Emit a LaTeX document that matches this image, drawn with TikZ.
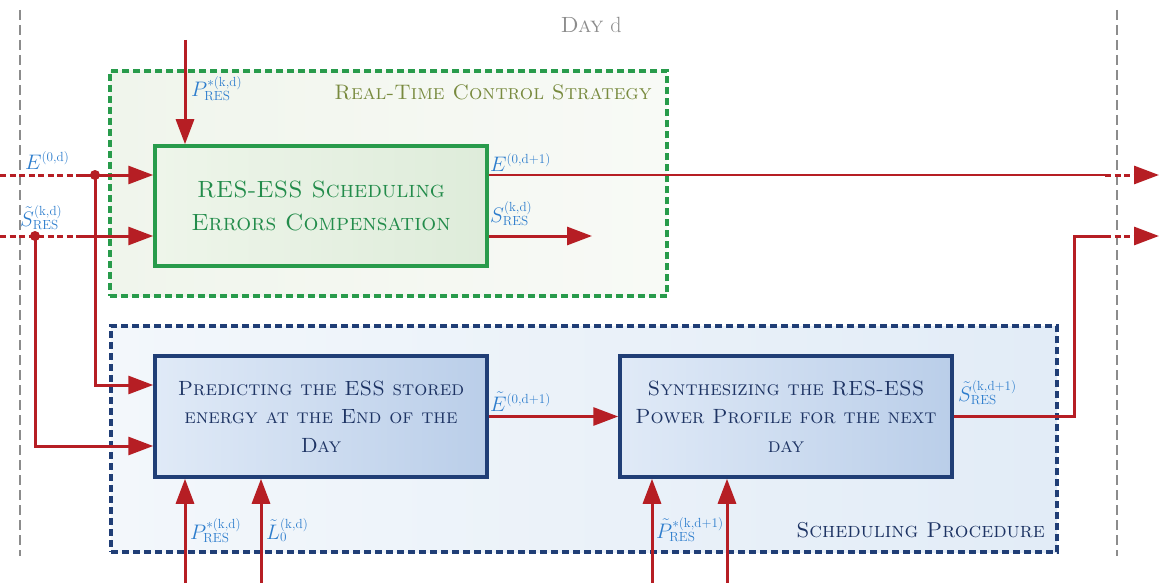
\RequirePackage{fix-cm}
\documentclass[tikz,border=0pt]{standalone}
\usetikzlibrary{arrows.meta}
% signal labels: narrower scripts than the default 0.7 ratio
\DeclareMathSizes{21}{21}{13.2}{9.5}

\definecolor{flowred}{RGB}{182,30,36}
\definecolor{daygray}{RGB}{140,140,140}
\definecolor{rtgreen}{RGB}{40,155,75}
\definecolor{rttext}{RGB}{35,140,75}
\definecolor{rttitle}{RGB}{120,138,62}
\definecolor{rtbgA}{RGB}{240,245,236}
\definecolor{rtbgB}{RGB}{248,250,246}
\definecolor{rtfillA}{RGB}{238,245,234}
\definecolor{rtfillB}{RGB}{222,236,218}
\definecolor{spblue}{RGB}{32,62,118}
\definecolor{sptext}{RGB}{30,52,100}
\definecolor{spbgA}{RGB}{243,247,251}
\definecolor{spbgB}{RGB}{226,236,247}
\definecolor{spfillA}{RGB}{224,234,247}
\definecolor{spfillB}{RGB}{186,206,233}
\definecolor{lblblue}{RGB}{45,125,205}

\begin{document}
\begin{tikzpicture}[x=1pt,y=-1pt,
  flow/.style={draw=flowred,line width=3pt},
  tip/.style={-{Triangle[length=25pt,width=18pt]}},
  cut/.style={draw=flowred,line width=3pt,dash pattern=on 6pt off 3.5pt},
  dayline/.style={draw=daygray,line width=2pt,dash pattern=on 10pt off 5pt},
  rtframe/.style={draw=rtgreen,line width=3.4pt,dash pattern=on 7pt off 4pt,
    left color=rtbgA,right color=rtbgB,minimum width=557pt,minimum height=225pt,inner sep=0pt},
  spframe/.style={draw=spblue,line width=3.4pt,dash pattern=on 7pt off 4pt,
    left color=spbgA,right color=spbgB,minimum width=946pt,minimum height=226pt,inner sep=0pt},
  rtblock/.style={draw=rtgreen,line width=3.5pt,left color=rtfillA,right color=rtfillB,
    minimum width=332pt,minimum height=120pt,inner sep=0pt,align=center,text=rttext,
    font=\fontsize{23.5}{33}\selectfont\scshape},
  spblock/.style={draw=spblue,line width=3.5pt,left color=spfillA,right color=spfillB,
    minimum width=332pt,minimum height=121pt,inner sep=0pt,align=center,text=sptext,
    font=\fontsize{20.6}{28.5}\selectfont\scshape},
  lbl/.style={text=lblblue,inner sep=0pt,anchor=base west,font=\fontsize{21}{24}\selectfont},
  joint/.style={fill=flowred}
]
\useasboundingbox (0,0) rectangle (1161,583);

% day boundaries
\coordinate (dayLtop) at (20,10);
\coordinate (dayLbot) at (20,556);
\coordinate (dayRtop) at (1117,10);
\coordinate (dayRbot) at (1117,556);
\draw[dayline] (dayLtop) -- (dayLbot);
\draw[dayline] (dayRtop) -- (dayRbot);
\node[text=daygray,inner sep=0pt,anchor=base,font=\fontsize{22}{24}\selectfont] (dayname) at (591,33) {\textsc{Day} d};

% group frames
\node[rtframe] (rtgroup) at (388.5,183.5) {};
\node[spframe] (spgroup) at (584,439) {};
\node[text=rttitle,inner sep=0pt,anchor=base east,font=\fontsize{21}{24}\selectfont\scshape] (rtname) at (652,100) {Real-Time Control Strategy};
\node[text=sptext,inner sep=0pt,anchor=base east,font=\fontsize{21.5}{24}\selectfont\scshape] (spname) at (1045,537) {Scheduling Procedure};

% blocks
\node[rtblock] (rtc) at (321,206) {RES-ESS Scheduling\\Errors Compensation};
\node[spblock] (pred) at (321,416.5) {Predicting the ESS stored\\energy at the End of the\\Day};
\node[spblock] (synth) at (786,416.5) {Synthesizing the RES-ESS\\Power Profile for the next\\day};

% inputs of the real-time block
\coordinate (pTop) at (185,40);
\draw[flow,tip] (pTop) -- (pTop |- rtc.north);

\coordinate (eIn) at (0,175);
\coordinate (eCut) at (77,175);
\coordinate (jE) at (95,175);
\draw[cut] (eIn) -- (eCut);
\draw[flow,tip] (eCut) -- (eCut -| rtc.west);

\coordinate (sIn) at (0,236);
\coordinate (sCut) at (77,236);
\coordinate (jS) at (35,236);
\draw[cut] (sIn) -- (sCut);
\draw[flow,tip] (sCut) -- (sCut -| rtc.west);

% branches into the prediction block
\draw[flow,tip] (jE) |- ([yshift=31.5pt]pred.west);
\draw[flow,tip] (jS) |- ([yshift=-29.5pt]pred.west);
\fill[joint] (jE) circle (5pt);
\fill[joint] (jS) circle (5pt);

% outputs of the real-time block
\coordinate (eOutCut) at (1105,175);
\coordinate (eOutTip) at (1159,175);
\draw[flow,line width=2.6pt] (eCut -| rtc.east) -- (eOutCut);
\draw[cut,tip] (eOutCut) -- (eOutTip);
\coordinate (sOut) at (592,236);
\draw[flow,tip] (sCut -| rtc.east) -- (sOut);

% scheduling chain
\draw[flow,tip] (pred.east) -- (synth.west);
\coordinate (sUp) at (1074,236);
\coordinate (sNextCut) at (1105,236);
\coordinate (sNextTip) at (1159,236);
\draw[flow] (synth.east) -- (sUp |- synth.east) -- (sUp) -- (sNextCut);
\draw[cut,tip] (sNextCut) -- (sNextTip);

% inputs from below
\coordinate (b1) at (185,583);
\coordinate (b2) at (261,583);
\coordinate (b3) at (652,583);
\coordinate (b4) at (727,583);
\draw[flow,tip] (b1) -- (b1 |- pred.south);
\draw[flow,tip] (b2) -- (b2 |- pred.south);
\draw[flow,tip] (b3) -- (b3 |- synth.south);
\draw[flow,tip] (b4) -- (b4 |- synth.south);

% signal labels
\node[lbl] (lPtop) at (191,97) {$P^{*(\mathrm{k,d})}_{\mathrm{RES}}$};
\node[lbl] (lE) at (25,169) {$E^{(0,\mathrm{d})}$};
\node[lbl] (lS) at (20,226) {$\tilde{S}^{(\mathrm{k,d})}_{\mathrm{RES}}$};
\node[lbl] (lEnext) at (490,171) {$E^{(0,\mathrm{d+1})}$};
\node[lbl] (lSout) at (490,222) {$S^{(\mathrm{k,d})}_{\mathrm{RES}}$};
\node[lbl] (lEpred) at (490,411) {$\tilde{E}^{(0,\mathrm{d+1})}$};
\node[lbl] (lSnext) at (958,401) {$\tilde{S}^{(\mathrm{k,d+1})}_{\mathrm{RES}}$};
\node[lbl] (lPbot) at (190,539) {$P^{*(\mathrm{k,d})}_{\mathrm{RES}}$};
\node[lbl] (lL) at (266,539) {$\tilde{L}^{(\mathrm{k,d})}_{0}$};
\node[lbl] (lPnext) at (656,538) {$\tilde{P}^{*(\mathrm{k,d+1})}_{\mathrm{RES}}$};
\end{tikzpicture}
\end{document}
